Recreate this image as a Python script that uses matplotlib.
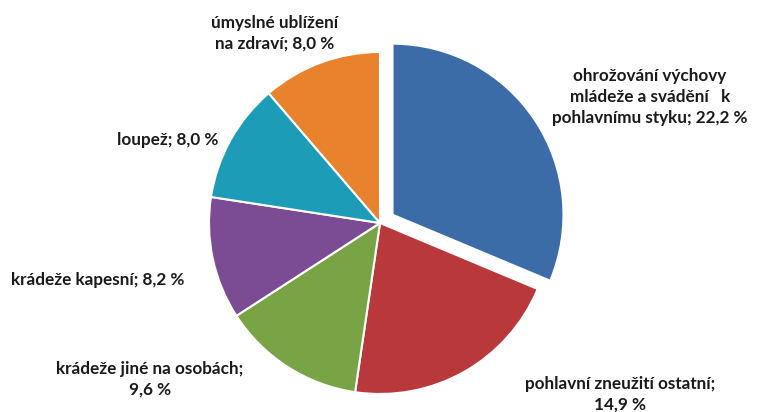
import matplotlib
matplotlib.use('Agg')
import matplotlib.pyplot as plt

labels = ['ohrožování výchovy\nmládeže a svádění   k\npohlavnímu styku; 22,2 %',
          'pohlavní zneužití ostatní;\n14,9 %',
          'krádeže jiné na osobách;\n9,6 %',
          'krádeže kapesní; 8,2 %',
          'loupež; 8,0 %',
          'úmyslné ublížení\nna zdraví; 8,0 %']
values = [22.2, 14.9, 9.6, 8.2, 8.0, 8.0]
colors = ['#3C6CA8', '#B9383B', '#78A445', '#7B4B93', '#1C9CB6', '#E8822C']

# label positions in pixels (x, y from top)
label_pos = [(650, 97), (620, 394), (150, 379), (98, 280), (168, 140), (275, 33)]

W, H = 761, 412
fig = plt.figure(figsize=(W / 100, H / 100), dpi=100)
ax = fig.add_axes([0, 0, 1, 1])

cx, cy, r = 380, H - 223, 171
explode = [15, 0, 0, 0, 0, 0]  # offset in pixels (pie does not scale by radius)
ax.pie(values, colors=colors, explode=explode, startangle=90, counterclock=False,
       center=(cx, cy), radius=r, frame=True,
       wedgeprops=dict(edgecolor='white', linewidth=1.5))
ax.set_xlim(0, W)
ax.set_ylim(0, H)
ax.axis('off')

for lab, (x, y) in zip(labels, label_pos):
    ax.text(x, H - y, lab, ha='center', va='center', fontsize=12.3,
            fontweight='bold', family='Lato', color='#1a1a1a', linespacing=1.35)

fig.savefig('out.png', dpi=100)
